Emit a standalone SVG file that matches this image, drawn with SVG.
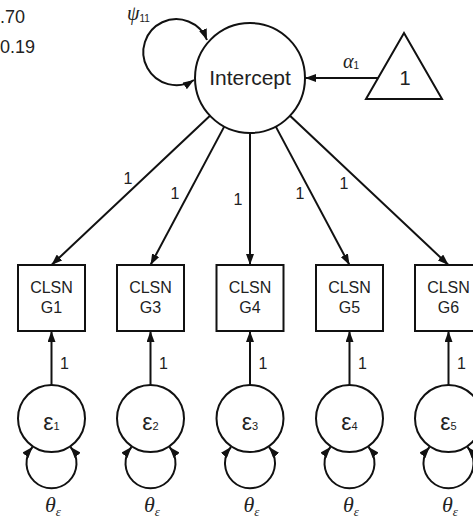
<svg xmlns="http://www.w3.org/2000/svg" width="473" height="520" viewBox="0 0 473 520">
<defs>
<marker id="ah" viewBox="0 0 11 8" refX="11" refY="4" markerWidth="11" markerHeight="8" markerUnits="userSpaceOnUse" orient="auto-start-reverse">
<path d="M0,0 L11,4 L0,8 z" fill="#111"/>
</marker>
<style>
.ln{stroke:#111;stroke-width:2;fill:none}
.sh{stroke:#111;stroke-width:2;fill:#fff}
.t{font-family:"Liberation Sans",Arial,sans-serif;fill:#222}
.g{font-family:"Liberation Serif","Times New Roman",serif;font-style:italic;fill:#222}
</style>
</defs>
<rect width="473" height="520" fill="#fff"/>
<text class="t" x="0" y="23" font-size="18">.70</text>
<text class="t" x="0" y="53" font-size="18">0.19</text>

<g id="connectors">
<path class="ln" d="M207,40 A33,33 0 1 0 194,80" marker-start="url(#ah)" marker-end="url(#ah)"/>
<line class="ln" x1="378" y1="78" x2="305" y2="78" marker-end="url(#ah)"/>
<line class="ln" x1="210" y1="115.7" x2="51.5" y2="265" marker-end="url(#ah)"/>
<line class="ln" x1="224.2" y1="126.6" x2="150.5" y2="265" marker-end="url(#ah)"/>
<line class="ln" x1="250" y1="133" x2="250" y2="265" marker-end="url(#ah)"/>
<line class="ln" x1="275.8" y1="126.6" x2="349.5" y2="265" marker-end="url(#ah)"/>
<line class="ln" x1="290" y1="115.7" x2="448.5" y2="265" marker-end="url(#ah)"/>
<line class="ln" x1="51.5" y1="385" x2="51.5" y2="331" marker-end="url(#ah)"/>
<line class="ln" x1="150.5" y1="385" x2="150.5" y2="331" marker-end="url(#ah)"/>
<line class="ln" x1="250" y1="385" x2="250" y2="331" marker-end="url(#ah)"/>
<line class="ln" x1="349.5" y1="385" x2="349.5" y2="331" marker-end="url(#ah)"/>
<line class="ln" x1="448.5" y1="385" x2="448.5" y2="331" marker-end="url(#ah)"/>
<path class="ln" d="M32.5,447 A25,25 0 1 0 70.5,447" marker-start="url(#ah)" marker-end="url(#ah)"/>
<path class="ln" d="M131.5,447 A25,25 0 1 0 169.5,447" marker-start="url(#ah)" marker-end="url(#ah)"/>
<path class="ln" d="M231,447 A25,25 0 1 0 269,447" marker-start="url(#ah)" marker-end="url(#ah)"/>
<path class="ln" d="M330.5,447 A25,25 0 1 0 368.5,447" marker-start="url(#ah)" marker-end="url(#ah)"/>
<path class="ln" d="M429.5,447 A25,25 0 1 0 467.5,447" marker-start="url(#ah)" marker-end="url(#ah)"/>
<text class="t" font-size="16" x="128" y="184" text-anchor="middle">1</text>
<text class="t" font-size="16" x="175" y="199" text-anchor="middle">1</text>
<text class="t" font-size="16" x="238" y="205" text-anchor="middle">1</text>
<text class="t" font-size="16" x="300" y="199" text-anchor="middle">1</text>
<text class="t" font-size="16" x="344" y="189" text-anchor="middle">1</text>
<text class="t" font-size="16" x="60" y="369">1</text>
<text class="t" font-size="16" x="159" y="369">1</text>
<text class="t" font-size="16" x="258.5" y="369">1</text>
<text class="t" font-size="16" x="358" y="369">1</text>
<text class="t" font-size="16" x="457" y="369">1</text>
<text class="g" x="127" y="20" font-size="20">ψ<tspan font-size="10" font-style="normal" font-family="Liberation Sans,sans-serif" dy="2">11</tspan></text>
<text class="g" x="343" y="68" font-size="20">α<tspan font-size="10" font-style="normal" font-family="Liberation Sans,sans-serif" dy="1">1</tspan></text>
</g>

<g id="intercept">
<circle class="sh" cx="250" cy="78" r="55"/>
<text class="t" x="250" y="85" font-size="21" text-anchor="middle">Intercept</text>
</g>
<g id="constant">
<polygon class="sh" points="404,33 366,99 442,99"/>
<text class="t" x="405" y="85" font-size="20" text-anchor="middle">1</text>
</g>

<g id="g1"><rect class="sh" x="18" y="265" width="67" height="66"/><text class="t" font-size="16" text-anchor="middle" x="51.5" y="293">CLSN</text><text class="t" font-size="16" text-anchor="middle" x="51.5" y="313">G1</text></g>
<g id="g3"><rect class="sh" x="117" y="265" width="67" height="66"/><text class="t" font-size="16" text-anchor="middle" x="150.5" y="293">CLSN</text><text class="t" font-size="16" text-anchor="middle" x="150.5" y="313">G3</text></g>
<g id="g4"><rect class="sh" x="216.5" y="265" width="67" height="66"/><text class="t" font-size="16" text-anchor="middle" x="250" y="293">CLSN</text><text class="t" font-size="16" text-anchor="middle" x="250" y="313">G4</text></g>
<g id="g5"><rect class="sh" x="316" y="265" width="67" height="66"/><text class="t" font-size="16" text-anchor="middle" x="349.5" y="293">CLSN</text><text class="t" font-size="16" text-anchor="middle" x="349.5" y="313">G5</text></g>
<g id="g6"><rect class="sh" x="415" y="265" width="67" height="66"/><text class="t" font-size="16" text-anchor="middle" x="448.5" y="293">CLSN</text><text class="t" font-size="16" text-anchor="middle" x="448.5" y="313">G6</text></g>

<g id="e1"><circle class="sh" cx="51.5" cy="418.5" r="33.5"/><text class="t" font-size="23" text-anchor="middle" x="51.5" y="430">ε<tspan font-size="11">1</tspan></text><text class="g" font-size="22" text-anchor="middle" x="53" y="512">θ<tspan font-size="13" dy="4">ε</tspan></text></g>
<g id="e2"><circle class="sh" cx="150.5" cy="418.5" r="33.5"/><text class="t" font-size="23" text-anchor="middle" x="150.5" y="430">ε<tspan font-size="11">2</tspan></text><text class="g" font-size="22" text-anchor="middle" x="152" y="512">θ<tspan font-size="13" dy="4">ε</tspan></text></g>
<g id="e3"><circle class="sh" cx="250" cy="418.5" r="33.5"/><text class="t" font-size="23" text-anchor="middle" x="250" y="430">ε<tspan font-size="11">3</tspan></text><text class="g" font-size="22" text-anchor="middle" x="251.5" y="512">θ<tspan font-size="13" dy="4">ε</tspan></text></g>
<g id="e4"><circle class="sh" cx="349.5" cy="418.5" r="33.5"/><text class="t" font-size="23" text-anchor="middle" x="349.5" y="430">ε<tspan font-size="11">4</tspan></text><text class="g" font-size="22" text-anchor="middle" x="351" y="512">θ<tspan font-size="13" dy="4">ε</tspan></text></g>
<g id="e5"><circle class="sh" cx="448.5" cy="418.5" r="33.5"/><text class="t" font-size="23" text-anchor="middle" x="448.5" y="430">ε<tspan font-size="11">5</tspan></text><text class="g" font-size="22" text-anchor="middle" x="450" y="512">θ<tspan font-size="13" dy="4">ε</tspan></text></g>
</svg>
